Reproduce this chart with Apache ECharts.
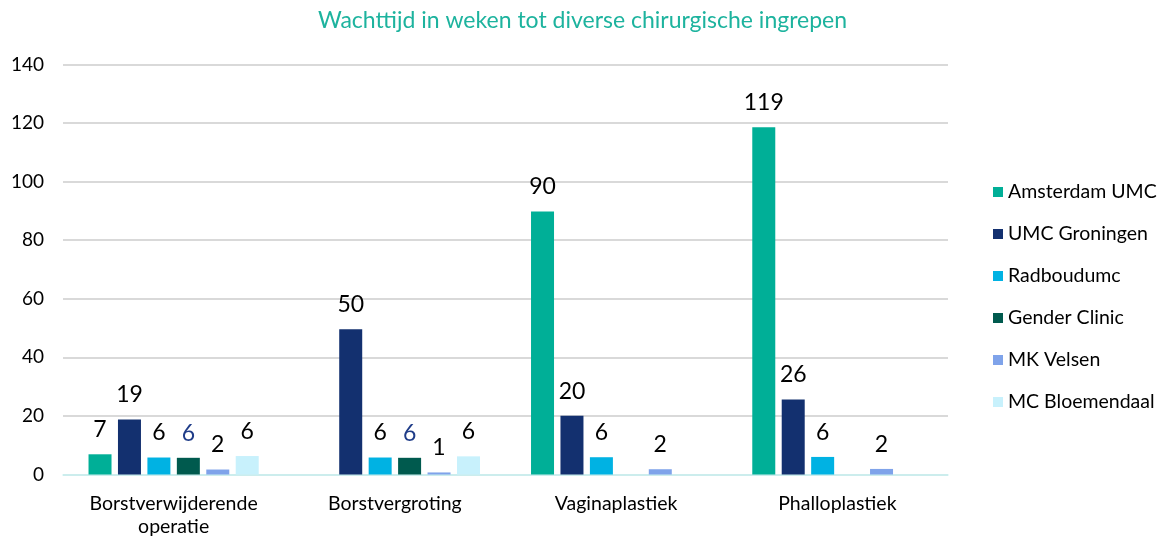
<!DOCTYPE html>
<html>
<head>
<meta charset="utf-8">
<script src="https://cdn.jsdelivr.net/npm/echarts@6/dist/echarts.min.js"></script>
<style>html,body{margin:0;padding:0;background:#fff}#c{width:1165px;height:540px}</style>
</head>
<body>
<div id="c"></div>
<script>
const categories = ['Borstverwijderende\noperatie', 'Borstvergroting', 'Vaginaplastiek', 'Phalloplastiek'];
const seriesNames = ['Amsterdam UMC', 'UMC Groningen', 'Radboudumc', 'Gender Clinic', 'MK Velsen', 'MC Bloemendaal'];
const amsterdamUMC = [6.9, null, 89.8, 118.6];
const umcGroningen = [18.8, 49.6, 20.1, 25.6];
const radboudumc = [5.8, 5.8, 5.9, 6.0];
const genderClinic = [5.7, 5.7, null, null];
const mkVelsen = [1.7, 0.7, 1.8, 1.9];
const mcBloemendaal = [6.3, 6.2, null, null];
const yTicks = [0, 20, 40, 60, 80, 100, 120, 140];

const colors = ['#00AF97', '#13306F', '#00B2E3', '#005A4E', '#7FA3EA', '#C8F1FC'];
const labelColors = ['#000', '#000', '#000', '#1F3C88', '#000', '#000'];
const allData = [amsterdamUMC, umcGroningen, radboudumc, genderClinic, mkVelsen, mcBloemendaal];

const FONT = 'Lato, Carlito, sans-serif';
const chart = echarts.init(document.getElementById('c'));
chart.setOption({
  animation: false,
  textStyle: { fontFamily: FONT },
  title: {
    text: 'Wachttijd in weken tot diverse chirurgische ingrepen',
    left: 'center', top: 4,
    textStyle: { color: '#1DB39E', fontSize: 23, fontWeight: 'normal', fontFamily: FONT }
  },
  legend: {
    orient: 'vertical', left: 988, top: 177,
    itemWidth: 10, itemHeight: 10, itemGap: 22, icon: 'rect',
    textStyle: { fontSize: 19.5, color: '#000', fontFamily: FONT },
    data: seriesNames
  },
  grid: { left: 63, right: 217, top: 64.5, bottom: 65.5 },
  xAxis: {
    type: 'category', data: categories,
    axisLine: { lineStyle: { color: '#C8F4F4', width: 1.5 } },
    axisTick: { show: false },
    axisLabel: { fontSize: 19.5, color: '#000', margin: 18, lineHeight: 23, fontFamily: FONT }
  },
  yAxis: {
    type: 'value', min: 0, max: 140, interval: 20,
    axisLine: { show: false }, axisTick: { show: false },
    splitLine: { lineStyle: { color: '#D9D9D9', width: 2 } },
    axisLabel: { fontSize: 19, color: '#000', margin: 19, fontFamily: FONT,
      formatter: v => yTicks.includes(v) ? String(v) : '' }
  },
  series: seriesNames.map((n, i) => ({
    name: n, type: 'bar', data: allData[i],
    barWidth: 23, barGap: '28%',
    itemStyle: { color: colors[i] },
    label: {
      show: true, position: 'top', distance: 13,
      fontSize: 23, color: labelColors[i], fontFamily: FONT,
      formatter: p => p.value == null ? '' : String(Math.round(p.value))
    }
  }))
});
</script>
</body>
</html>
